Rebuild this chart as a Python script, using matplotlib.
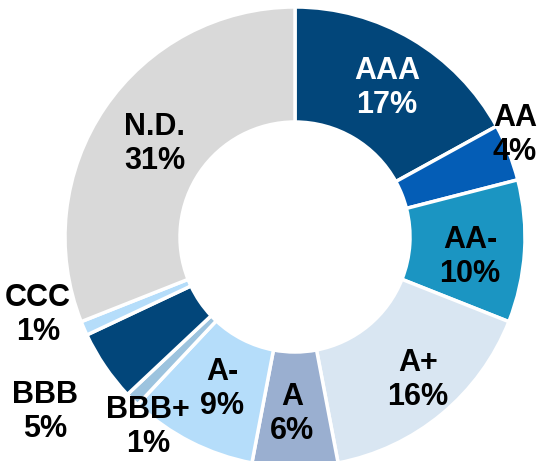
#!/usr/bin/env python3
"""Donut chart of portfolio breakdown by credit rating."""
import matplotlib

matplotlib.use("Agg")
import matplotlib.pyplot as plt
from matplotlib import font_manager

ratings = ["AAA", "AA", "AA-", "A+", "A", "A-", "BBB+", "BBB", "CCC", "N.D."]
shares = [17, 4, 10, 16, 6, 9, 1, 5, 1, 31]
colors = ["#02467a", "#045db6", "#1b95c2", "#d9e6f2", "#9aafd0",
          "#b5ddfa", "#9cc3de", "#02467a", "#b5ddfa", "#d9d9d9"]
text_colors = ["white"] + ["black"] * 9

# label centres in pixels (x from left, y from top)
label_px = [(387, 88), (515, 135), (470, 257), (418, 380), (292, 414),
            (222, 389), (148, 427), (45, 412), (38, 315), (155, 144)]

W, H = 537, 461
CX, CY, R = 295, 237, 230

names = {f.name for f in font_manager.fontManager.ttflist}
family = "Liberation Sans Narrow" if "Liberation Sans Narrow" in names else "Liberation Sans"

fig = plt.figure(figsize=(W / 100, H / 100), dpi=100)
ax = fig.add_axes([0, 0, 1, 1])
ax.pie(shares, colors=colors, startangle=90, counterclock=False, radius=R,
       wedgeprops=dict(width=R * 0.5, edgecolor="white", linewidth=2.5))
ax.set_xlim(-CX, W - CX)
ax.set_ylim(-(H - CY), CY)
ax.set_aspect("equal")
ax.axis("off")

for name, val, (px, py), tc in zip(ratings, shares, label_px, text_colors):
    ax.text(px - CX, CY - py, f"{name}\n{val}%", ha="center", va="center",
            fontsize=22, fontweight="bold", color=tc, family=family,
            linespacing=1.15)

fig.savefig("out.png", dpi=100)
plt.close(fig)
